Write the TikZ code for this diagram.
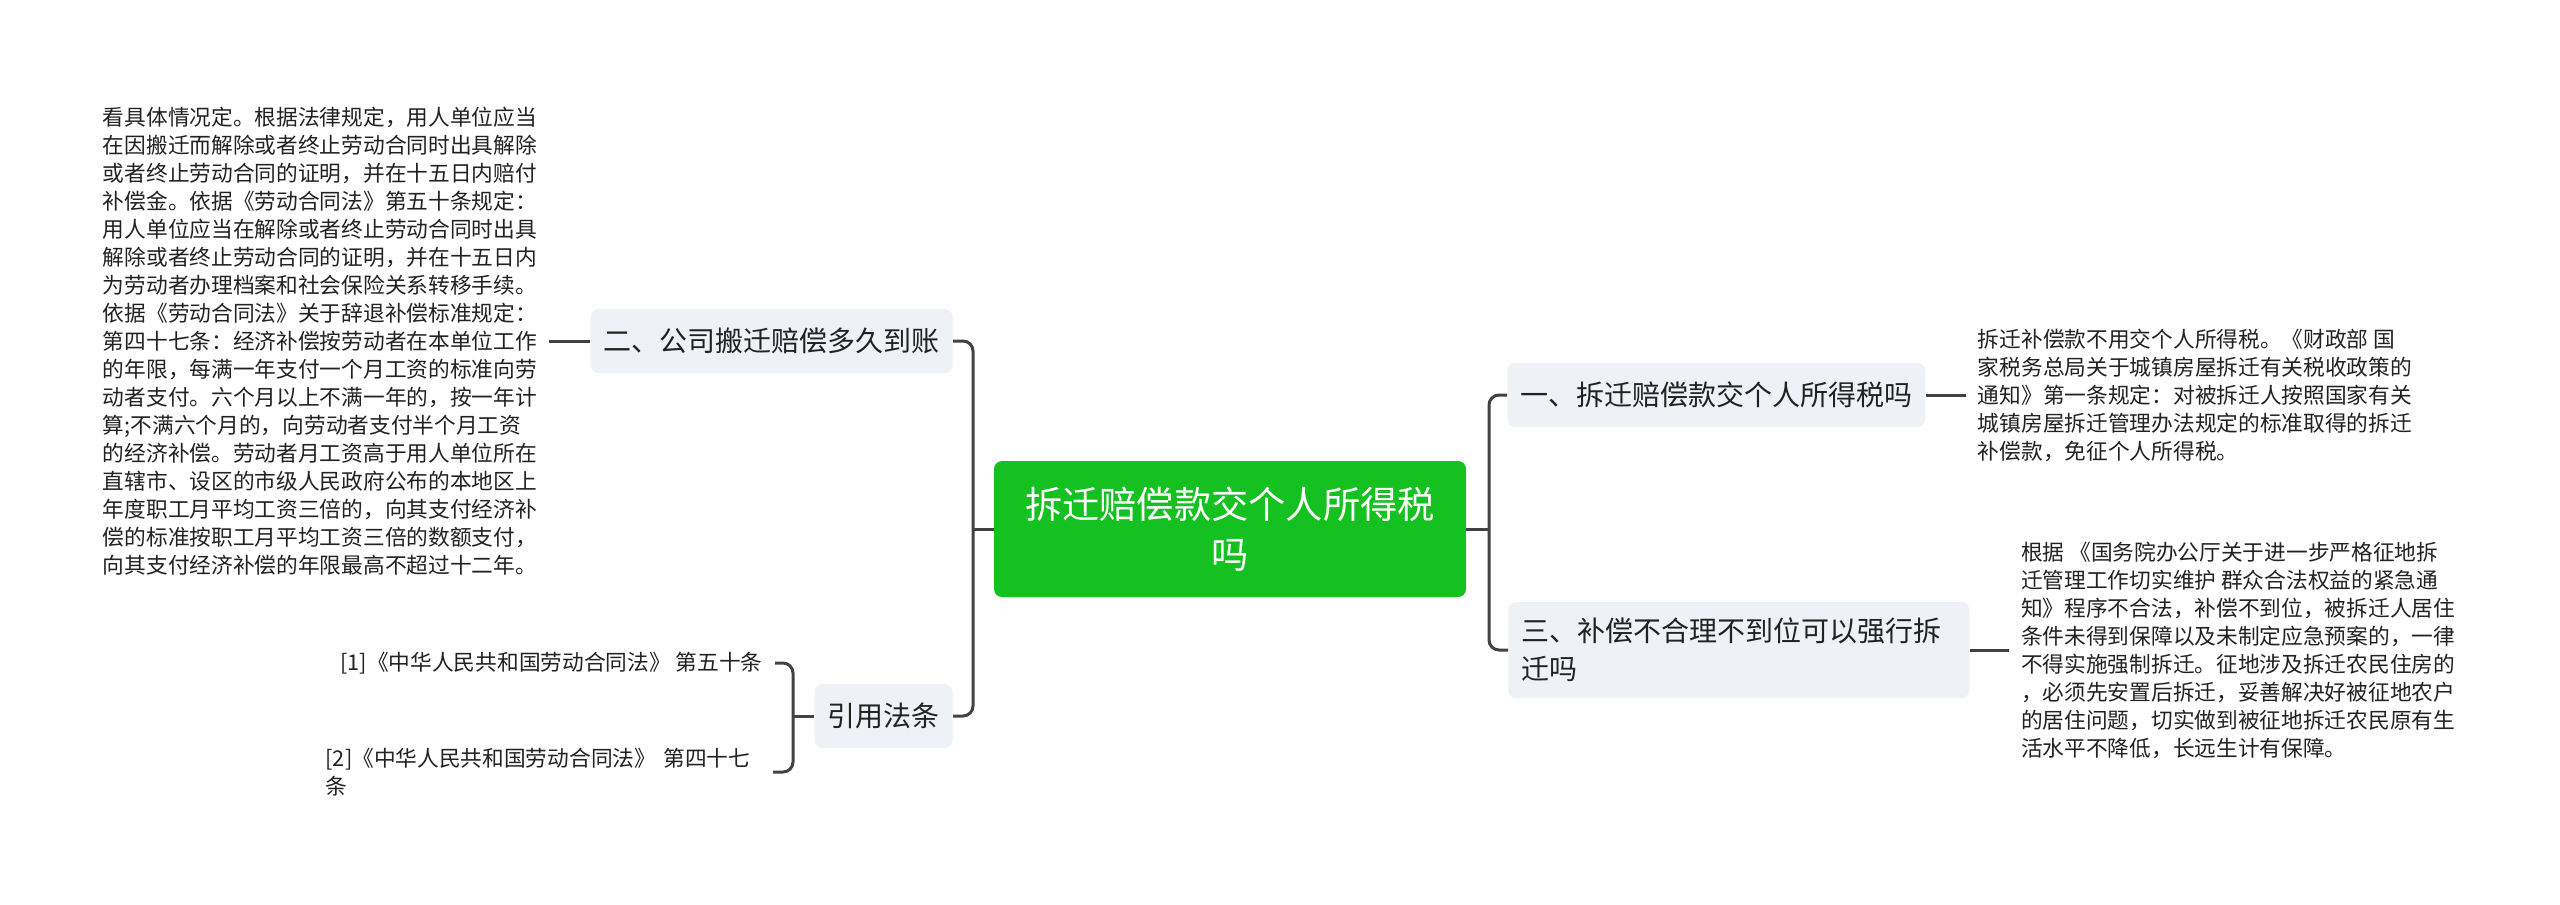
\documentclass[tikz,border=0pt]{standalone}
\usepackage{fontspec}
\setmainfont{Noto Sans CJK SC}
\usetikzlibrary{positioning}
\definecolor{cRoot}{RGB}{20,193,32}
\definecolor{cTopic}{RGB}{238,241,245}
\definecolor{cLine}{RGB}{66,66,66}
\definecolor{cInk}{RGB}{34,34,34}
\tikzset{
    root/.style={
        rectangle, rounded corners=1.6mm, fill=cRoot, text=white,
        align=center, inner sep=0pt, text width=82mm,
        font=\fontsize{21.2pt}{28.45pt}\selectfont,
        minimum width=94.4mm, minimum height=27.2mm,
    },
    topic/.style={
        rectangle, rounded corners=1.6mm, fill=cTopic, text=cInk,
        align=left, inner xsep=2.6mm, inner ysep=0pt,
        font=\fontsize{15.93pt}{21.6pt}\selectfont,
        minimum height=12.8mm,
    },
    leaf/.style={
        align=left, text=cInk, inner xsep=2.4mm, inner ysep=0pt,
        font=\fontsize{12.35pt}{15.93pt}\selectfont,
    },
    link/.style={draw=cLine, line width=0.6mm, rounded corners=2mm},
}
\begin{document}
\begin{tikzpicture}[x=0.2mm, y=-0.2mm]

\fill[white] (0,0) rectangle (2560,904);
\useasboundingbox (0,0) rectangle (2560,904);

% ============================================================
%  Centre
% ============================================================
\node[root] (root) at (1230,529) {拆迁赔偿款交个人所得税\\吗};

\coordinate (lhub) at (973,529);
\coordinate (rhub) at (1489,529);
\coordinate (refhub) at (793,716);

% ============================================================
%  Right side: two questions with their answers
% ============================================================
\node[topic, anchor=west] (b1) at (1507,395) {一、拆迁赔偿款交个人所得税吗};

\node[topic, anchor=west, text width=87mm, minimum height=19.2mm]
    (b3) at (1508,650) {三、补偿不合理不到位可以强行拆\\迁吗};

\node[leaf, right=8mm of b1] (leafR1) {
    拆迁补偿款不用交个人所得税。《财政部 国\\
    家税务总局关于城镇房屋拆迁有关税收政策的\\
    通知》第一条规定：对被拆迁人按照国家有关\\
    城镇房屋拆迁管理办法规定的标准取得的拆迁\\
    补偿款，免征个人所得税。
};

\node[leaf, right=7.8mm of b3] (leafR2) {
    根据 《国务院办公厅关于进一步严格征地拆\\
    迁管理工作切实维护 群众合法权益的紧急通\\
    知》程序不合法，补偿不到位，被拆迁人居住\\
    条件未得到保障以及未制定应急预案的，一律\\
    不得实施强制拆迁。征地涉及拆迁农民住房的\\
    ，必须先安置后拆迁，妥善解决好被征地农户\\
    的居住问题，切实做到被征地拆迁农民原有生\\
    活水平不降低，长远生计有保障。
};

% ============================================================
%  Left side: company relocation and cited articles
% ============================================================
\node[topic, anchor=east] (b2) at (953,341) {二、公司搬迁赔偿多久到账};

\node[topic, anchor=east] (refs) at (953,716) {引用法条};

\node[leaf, left=8.2mm of b2] (leafL) {
    看具体情况定。根据法律规定，用人单位应当\\
    在因搬迁而解除或者终止劳动合同时出具解除\\
    或者终止劳动合同的证明，并在十五日内赔付\\
    补偿金。依据《劳动合同法》第五十条规定：\\
    用人单位应当在解除或者终止劳动合同时出具\\
    解除或者终止劳动合同的证明，并在十五日内\\
    为劳动者办理档案和社会保险关系转移手续。\\
    依据《劳动合同法》关于辞退补偿标准规定：\\
    第四十七条：经济补偿按劳动者在本单位工作\\
    的年限，每满一年支付一个月工资的标准向劳\\
    动者支付。六个月以上不满一年的，按一年计\\
    算;不满六个月的，向劳动者支付半个月工资\\
    的经济补偿。劳动者月工资高于用人单位所在\\
    直辖市、设区的市级人民政府公布的本地区上\\
    年度职工月平均工资三倍的，向其支付经济补\\
    偿的标准按职工月平均工资三倍的数额支付，\\
    向其支付经济补偿的年限最高不超过十二年。
};

\node[leaf, anchor=east] (ref1) at (775,663) {[1]《中华人民共和国劳动合同法》 第五十条};
\node[leaf, anchor=east, text width=87mm] (ref2) at (773,772)
    {[2]《中华人民共和国劳动合同法》 第四十七\\条};

% ============================================================
%  Connectors
% ============================================================
\draw[link] (root.west) -- (lhub);
\draw[link] (b2.east) -| (lhub) |- (refs.east);
\draw[link] (root.east) -- (rhub);
\draw[link] (b1.west) -| (rhub) |- (b3.west);

\draw[link] (b1.east) -- (leafR1.west);
\draw[link] (b3.east) -- (leafR2.west);
\draw[link] (b2.west) -- (leafL.east);

\draw[link] (refs.west) -- (refhub);
\draw[link] (ref1.east) -| (refhub) |- (ref2.east);

\end{tikzpicture}
\end{document}
